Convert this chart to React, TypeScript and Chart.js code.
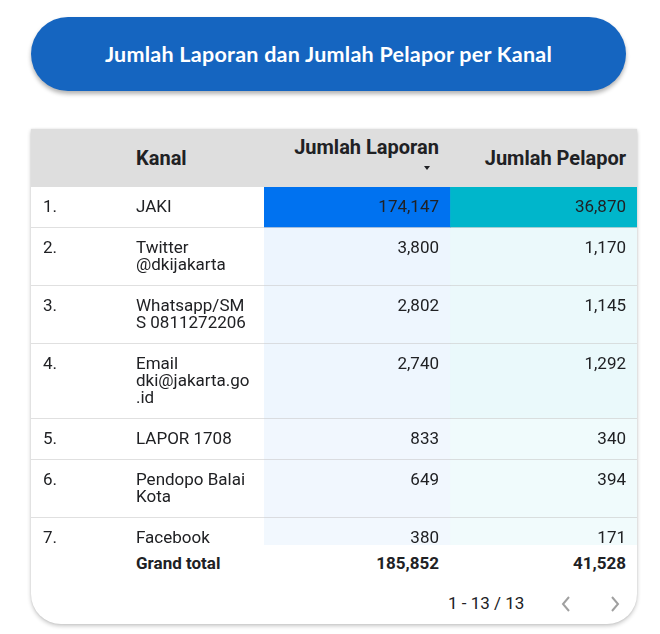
import React, { useEffect, useRef } from "react";
import { Chart, registerables } from "chart.js";

Chart.register(...registerables);

const title = "Jumlah Laporan dan Jumlah Pelapor per Kanal";
const indexHeader = "";
const columnHeaders = ["Kanal", "Jumlah Laporan", "Jumlah Pelapor"];
const rowNumbers = ["1.", "2.", "3.", "4.", "5.", "6.", "7."];
const kanal = [
  "JAKI",
  "Twitter @dkijakarta",
  "Whatsapp/SMS 0811272206",
  "Email dki@jakarta.go.id",
  "LAPOR 1708",
  "Pendopo Balai Kota",
  "Facebook",
];
const jumlahLaporan = [174147, 3800, 2802, 2740, 833, 649, 380];
const jumlahPelapor = [36870, 1170, 1145, 1292, 340, 394, 171];
const grandTotalLabel = "Grand total";
const totalLaporan = 185852;
const totalPelapor = 41528;
const pageLabel = "1 - 13 / 13";
const heatColors = ["#0072f0", "#00b6cb"];

const fmt = (v: number) => v.toLocaleString("en-US");

function heat(hex: string, v: number, max: number) {
  const r = parseInt(hex.slice(1, 3), 16);
  const g = parseInt(hex.slice(3, 5), 16);
  const b = parseInt(hex.slice(5, 7), 16);
  const t = 0.05 + 0.95 * (v / max);
  const mix = (c: number) => Math.round(255 + (c - 255) * t);
  return `rgb(${mix(r)},${mix(g)},${mix(b)})`;
}

const FONT = "Roboto, 'Noto Sans', sans-serif";
const TEXT = "#202124";
const W_IDX = 92;
const W_KANAL = 141;
const W_LAP = 187;
const W_PEL = 186;
const HEAD_H = 58;
const BODY_H = 358;

export default function App() {
  const canvasRef = useRef<HTMLCanvasElement>(null);
  const rowRefs = useRef<(HTMLDivElement | null)[]>([]);

  useEffect(() => {
    const canvas = canvasRef.current;
    if (!canvas) return;
    const spans = rowRefs.current.map((el) =>
      el ? [el.offsetTop, el.offsetTop + el.offsetHeight - 1] : [0, 0]
    );
    const maxL = Math.max(...jumlahLaporan);
    const maxP = Math.max(...jumlahPelapor);
    const datasets = kanal.map((k, i) => ({
      label: k,
      data: [spans[i], spans[i]] as any,
      backgroundColor: [
        heat(heatColors[0], jumlahLaporan[i], maxL),
        heat(heatColors[1], jumlahPelapor[i], maxP),
      ],
      borderWidth: 0,
      borderSkipped: false as any,
      barPercentage: 1,
      categoryPercentage: 1,
    }));
    const chart = new Chart(canvas, {
      type: "bar",
      data: { labels: columnHeaders.slice(1), datasets },
      options: {
        animation: false,
        responsive: false,
        maintainAspectRatio: false,
        layout: { padding: 0 },
        plugins: { legend: { display: false }, tooltip: { enabled: false } },
        scales: {
          x: { stacked: true, display: false },
          y: { display: false, reverse: true, min: 0, max: BODY_H },
        },
      },
    });
    return () => chart.destroy();
  }, []);

  const cellBase: React.CSSProperties = {
    boxSizing: "border-box",
    fontSize: 17,
    lineHeight: "17px",
  };

  return (
    <div
      style={{
        position: "absolute",
        left: 0,
        top: 0,
        width: 660,
        height: 634,
        background: "#fff",
        fontFamily: FONT,
        color: TEXT,
        overflow: "hidden",
      }}
    >
      {/* Title pill */}
      <div
        style={{
          position: "absolute",
          left: 31,
          top: 17,
          width: 595,
          height: 74,
          borderRadius: 37,
          background: "#1565c0",
          boxShadow: "0 3px 4px rgba(0,0,0,0.3)",
          display: "flex",
          alignItems: "center",
          justifyContent: "center",
          color: "#fff",
          fontFamily: "Lato, 'Open Sans', sans-serif",
          fontWeight: 700,
          fontSize: 21.5,
          letterSpacing: 0.25,
        }}
      >
        {title}
      </div>

      {/* Card */}
      <div
        style={{
          position: "absolute",
          left: 31,
          top: 129,
          width: 606,
          height: 495,
          background: "#fff",
          borderRadius: "0 0 30px 30px",
          boxShadow: "0 2px 4px rgba(0,0,0,0.22), 0 0 2px rgba(0,0,0,0.1)",
          overflow: "hidden",
        }}
      >
        {/* Header */}
        <div
          style={{
            display: "flex",
            height: HEAD_H,
            background: "#dedede",
            fontWeight: 700,
            fontSize: 20,
            alignItems: "center",
          }}
        >
          <div style={{ width: W_IDX }}>{indexHeader}</div>
          <div style={{ width: W_KANAL, paddingLeft: 13, boxSizing: "border-box" }}>
            {columnHeaders[0]}
          </div>
          <div
            style={{
              width: W_LAP,
              boxSizing: "border-box",
              textAlign: "right",
              position: "relative",
              height: HEAD_H,
            }}
          >
            <div
              style={{
                position: "absolute",
                right: 12,
                top: 6,
                lineHeight: "24px",
                whiteSpace: "nowrap",
              }}
            >
              {columnHeaders[1]}
            </div>
            <div
              style={{
                position: "absolute",
                right: 21,
                top: 37,
                width: 0,
                height: 0,
                borderLeft: "3.5px solid transparent",
                borderRight: "3.5px solid transparent",
                borderTop: "4px solid #202124",
              }}
            />
          </div>
          <div
            style={{
              width: W_PEL,
              paddingRight: 11,
              boxSizing: "border-box",
              textAlign: "right",
              whiteSpace: "nowrap",
            }}
          >
            {columnHeaders[2]}
          </div>
        </div>

        {/* Body */}
        <div style={{ position: "relative", height: BODY_H, overflow: "hidden" }}>
          <canvas
            ref={canvasRef}
            width={W_LAP + W_PEL}
            height={BODY_H}
            style={{
              position: "absolute",
              left: W_IDX + W_KANAL,
              top: 0,
              width: W_LAP + W_PEL,
              height: BODY_H,
              zIndex: 0,
            }}
          />
          {kanal.map((k, i) => (
            <div
              key={k}
              ref={(el) => {
                rowRefs.current[i] = el;
              }}
              style={{
                display: "flex",
                position: "relative",
                zIndex: 1,
                borderBottom: "1px solid rgba(0,0,0,0.12)",
                paddingTop: 11,
                paddingBottom: 12,
              }}
            >
              <div style={{ ...cellBase, width: W_IDX, paddingLeft: 12 }}>{rowNumbers[i]}</div>
              <div
                style={{
                  ...cellBase,
                  width: W_KANAL,
                  paddingLeft: 13,
                  paddingRight: 14,
                  overflowWrap: "anywhere",
                }}
              >
                {k}
              </div>
              <div style={{ ...cellBase, width: W_LAP, paddingRight: 12, textAlign: "right" }}>
                {fmt(jumlahLaporan[i])}
              </div>
              <div style={{ ...cellBase, width: W_PEL, paddingRight: 11, textAlign: "right" }}>
                {fmt(jumlahPelapor[i])}
              </div>
            </div>
          ))}
        </div>

        {/* Grand total */}
        <div style={{ display: "flex", height: 36, alignItems: "center", fontWeight: 700, fontSize: 17 }}>
          <div style={{ width: W_IDX }} />
          <div style={{ width: W_KANAL, paddingLeft: 13, boxSizing: "border-box", whiteSpace: "nowrap" }}>
            {grandTotalLabel}
          </div>
          <div style={{ width: W_LAP, paddingRight: 12, boxSizing: "border-box", textAlign: "right" }}>
            {fmt(totalLaporan)}
          </div>
          <div style={{ width: W_PEL, paddingRight: 11, boxSizing: "border-box", textAlign: "right" }}>
            {fmt(totalPelapor)}
          </div>
        </div>

        {/* Pagination */}
        <div
          style={{
            position: "absolute",
            left: 417,
            top: 464,
            fontSize: 17,
            lineHeight: "20px",
            whiteSpace: "nowrap",
          }}
        >
          {pageLabel}
        </div>
        <svg
          style={{ position: "absolute", left: 528, top: 466 }}
          width={14}
          height={18}
          viewBox="0 0 14 18"
        >
          <polyline points="10,2 4,9 10,16" fill="none" stroke="#a0a0a0" strokeWidth={2} />
        </svg>
        <svg
          style={{ position: "absolute", left: 577, top: 466 }}
          width={14}
          height={18}
          viewBox="0 0 14 18"
        >
          <polyline points="4,2 10,9 4,16" fill="none" stroke="#a0a0a0" strokeWidth={2} />
        </svg>
      </div>
    </div>
  );
}
